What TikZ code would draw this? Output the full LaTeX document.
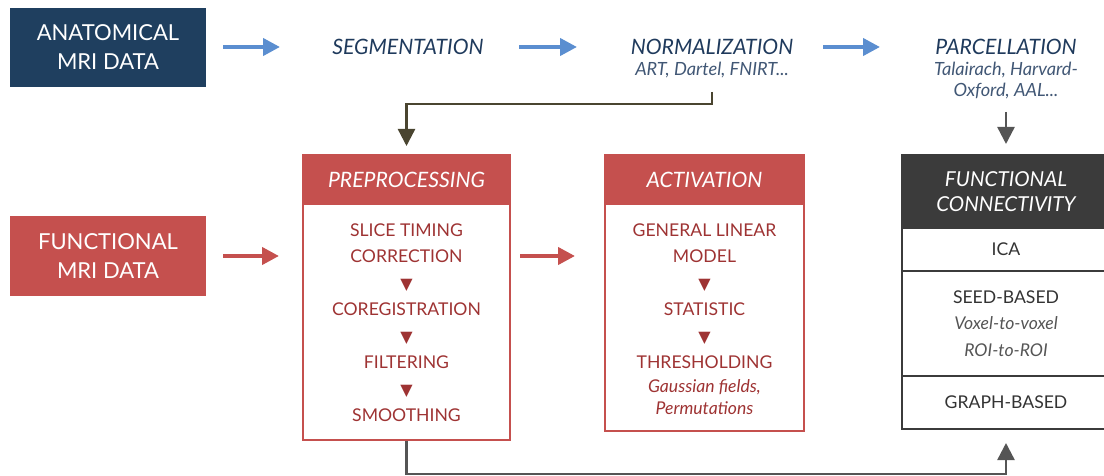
\documentclass[tikz,border=0pt]{standalone}
\usepackage{fontspec}
\setmainfont{Lato}
\newfontfamily\symfont{DejaVu Sans}
\usetikzlibrary{arrows.meta}

\definecolor{anatblue}{HTML}{1F3F5F}
\definecolor{arrowblue}{HTML}{5B8ED0}
\definecolor{funcred}{HTML}{C5504E}
\definecolor{steptext}{HTML}{9E3333}
\definecolor{labelblue}{HTML}{1F3A5C}
\definecolor{fcgray}{HTML}{3B3B3B}
\definecolor{fctext}{HTML}{333333}
\definecolor{fcsub}{HTML}{555555}
\definecolor{linkolive}{HTML}{4A4530}
\definecolor{linkgray}{HTML}{555555}

\newcommand{\stepdown}{{\symfont\fontsize{8}{13.25}\selectfont\char"25BC}}

\tikzset{
  databox/.style={minimum width=98pt, minimum height=39.5pt, text=white,
    align=center, inner sep=0pt, font=\fontsize{11}{14.5}\selectfont},
  flow/.style={-{Triangle[length=8.5pt,width=8.5pt]}, line width=2pt},
  link/.style={-{Triangle[length=8.5pt,width=8.5pt]}, line width=1.2pt},
  toplabel/.style={text=labelblue, inner sep=0pt, font=\fontsize{10.6}{12}\selectfont\itshape},
  sublabel/.style={text=labelblue!85, align=center, inner sep=0pt,
    font=\fontsize{9.1}{10.5}\selectfont\itshape},
  stagebox/.style={draw=funcred, line width=1pt, minimum width=103.5pt, inner sep=0pt},
  stagehead/.style={fill=funcred, draw=funcred, line width=1pt, text=white,
    minimum height=24.5pt, inner sep=0pt, font=\fontsize{10.6}{12}\selectfont\itshape},
  steps/.style={text=steptext, align=center, inner sep=0pt,
    font=\fontsize{8.8}{13.25}\selectfont},
  fcrow/.style={draw=fcgray, line width=1pt, minimum width=104pt, inner sep=0pt,
    text=fctext, align=center, font=\fontsize{8.8}{13.25}\selectfont},
}

\begin{document}
\begin{tikzpicture}[x=0.5pt,y=-0.5pt]
  \useasboundingbox (0,0) rectangle (1104,476);

  \node[databox, fill=anatblue] (anat) at (108,47.5) {ANATOMICAL\\MRI DATA};
  \node[databox, fill=funcred] (func) at (108,256) {FUNCTIONAL\\MRI DATA};

  \node[toplabel] (seg) at (408,47) {SEGMENTATION};
  \node[toplabel] (norm) at (712,47) {NORMALIZATION};
  \node[sublabel] (normsub) at (712,70) {ART, Dartel, FNIRT...};
  \node[toplabel] (parc) at (1006,47) {PARCELLATION};
  \node[sublabel] (parcsub) at (1006,80.5) {Talairach, Harvard-\\Oxford, AAL...};

  \coordinate (anat out) at (223,47);
  \coordinate (seg in) at (280,47);
  \coordinate (seg out) at (519,47);
  \coordinate (norm in) at (577,47);
  \coordinate (norm out) at (823,47);
  \coordinate (parc in) at (880,47);
  \draw[flow, arrowblue] (anat out) -- (seg in);
  \draw[flow, arrowblue] (seg out) -- (norm in);
  \draw[flow, arrowblue] (norm out) -- (parc in);

  \node[stagebox, minimum height=142.5pt] (prep) at (406.5,297.5) {};
  \node[stagehead, minimum width=103.5pt, anchor=north] (prephead) at (prep.north) {PREPROCESSING};
  \node[steps] (prepsteps) at (406.5,322.5) {SLICE TIMING\\CORRECTION\\\stepdown\\COREGISTRATION\\\stepdown\\FILTERING\\\stepdown\\SMOOTHING};

  \node[stagebox, minimum width=99.5pt, minimum height=138pt] (act) at (704.5,293) {};
  \node[stagehead, minimum width=99.5pt, anchor=north] (acthead) at (act.north) {ACTIVATION};
  \node[steps] (actsteps) at (704.5,319) {GENERAL LINEAR\\MODEL\\\stepdown\\STATISTIC\\\stepdown\\THRESHOLDING\\[-1.25pt]
    {\itshape Gaussian fields,}\\[-2.25pt]{\itshape Permutations}};

  \node[fcrow, fill=fcgray, text=white, minimum height=36.5pt, font=\fontsize{10.3}{12.5}\selectfont\itshape] (fchead) at (1006,191.5) {FUNCTIONAL\\CONNECTIVITY};
  \node[fcrow, minimum height=21.5pt] (fcica) at (1006,249.5) {ICA};
  \node[fcrow, minimum height=52.5pt] (fcseed) at (1006,323.5) {SEED-BASED\\{\itshape\color{fcsub}Voxel-to-voxel}\\{\itshape\color{fcsub}ROI-to-ROI}};
  \node[fcrow, minimum height=26.5pt] (fcgraph) at (1006,402.5) {GRAPH-BASED};

  \draw[flow, funcred] ([xshift=8.5pt]func.east) -- ([xshift=-11.5pt]prep.west |- func.east);
  \draw[flow, funcred] ([xshift=4.5pt]prep.east |- func.east) -- ([xshift=-14.5pt]act.west |- func.east);

  \coordinate (normtap) at (712,92);
  \coordinate (parctap) at (1006,112);
  \draw[link, linkolive] (normtap) -- ++(0,12) -| ([yshift=4pt]prep.north);
  \draw[link, linkgray] (parctap) -- ([yshift=5pt]fchead.north);
  \draw[link, linkgray] (prep.south) -- ++(0,33) -| ([yshift=-6.5pt]fcgraph.south);
\end{tikzpicture}
\end{document}
